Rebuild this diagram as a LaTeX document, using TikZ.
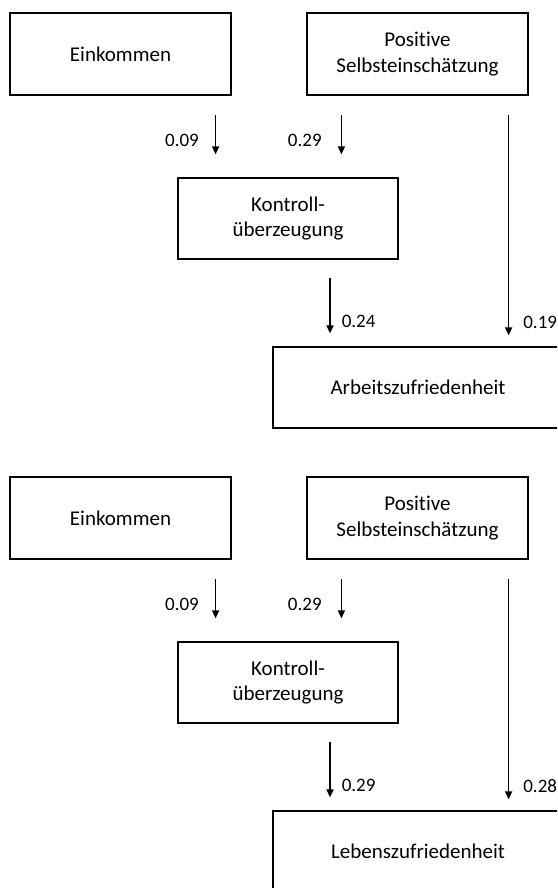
\documentclass[tikz,border=0pt]{standalone}
\usepackage{fontspec}
\setmainfont{Carlito}[Ligatures=NoCommon]
\usetikzlibrary{arrows.meta}

\tikzset{
  box/.style={draw, line width=1.2pt, inner sep=0pt, align=center,
    minimum width=221pt, minimum height=82pt, font=\fontsize{21}{25.6}\selectfont},
  coef/.style={inner sep=0pt, font=\fontsize{19}{23}\selectfont},
  pfeil/.style={->, line width=1.5pt}
}

\begin{document}
\begin{tikzpicture}[x=1pt, y=-1pt, >={Triangle[length=8pt, width=7pt]}]
    \useasboundingbox (0,0) rectangle (557,888);
    \clip (0,0) rectangle (557,888);
    % Arbeitszufriedenheit
    \node[box] (einA) at (120.5,54) {Einkommen};
    \node[box] (posA) at (417.5,54) {Positive\\Selbsteinschätzung};
    \node[box, minimum width=220pt, minimum height=81pt] (konA) at (288,218.5) {Kontroll-\\überzeugung};
    \node[box, minimum width=290pt, minimum height=81pt] (arbA) at (418,387.5) {Arbeitszufriedenheit};
    \draw[pfeil] ([xshift=-16pt, yshift=-19pt]einA.south east) -- ([xshift=-16pt, yshift=23pt]einA.east |- konA.north)
        node[coef, pos=0.66, left=16pt] {0.09};
    \draw[pfeil] ([xshift=35pt, yshift=-19pt]posA.south west) -- ([xshift=35pt, yshift=23pt]posA.west |- konA.north)
        node[coef, pos=0.66, left=19pt] {0.29};
    \draw[pfeil] ([xshift=42pt, yshift=-18pt]konA.south) -- ([xshift=42pt, yshift=13pt]konA.south |- arbA.north)
        node[coef, pos=0.79, right=11pt] {0.24};
    \draw[pfeil] ([xshift=-20pt, yshift=-19pt]posA.south east) -- ([xshift=-20pt, yshift=11pt]posA.east |- arbA.north)
        node[coef, pos=0.94, right=14pt] {0.19};
    % Lebenszufriedenheit
    \node[box] (einB) at (120.5,518) {Einkommen};
    \node[box] (posB) at (417.5,518) {Positive\\Selbsteinschätzung};
    \node[box, minimum width=220pt, minimum height=81pt] (konB) at (288,682.5) {Kontroll-\\überzeugung};
    \node[box, minimum width=290pt, minimum height=81pt] (lebB) at (418,851.5) {Lebenszufriedenheit};
    \draw[pfeil] ([xshift=-16pt, yshift=-19pt]einB.south east) -- ([xshift=-16pt, yshift=23pt]einB.east |- konB.north)
        node[coef, pos=0.66, left=16pt] {0.09};
    \draw[pfeil] ([xshift=35pt, yshift=-19pt]posB.south west) -- ([xshift=35pt, yshift=23pt]posB.west |- konB.north)
        node[coef, pos=0.66, left=19pt] {0.29};
    \draw[pfeil] ([xshift=42pt, yshift=-18pt]konB.south) -- ([xshift=42pt, yshift=13pt]konB.south |- lebB.north)
        node[coef, pos=0.79, right=11pt] {0.29};
    \draw[pfeil] ([xshift=-20pt, yshift=-19pt]posB.south east) -- ([xshift=-20pt, yshift=11pt]posB.east |- lebB.north)
        node[coef, pos=0.94, right=14pt] {0.28};
\end{tikzpicture}
\end{document}
